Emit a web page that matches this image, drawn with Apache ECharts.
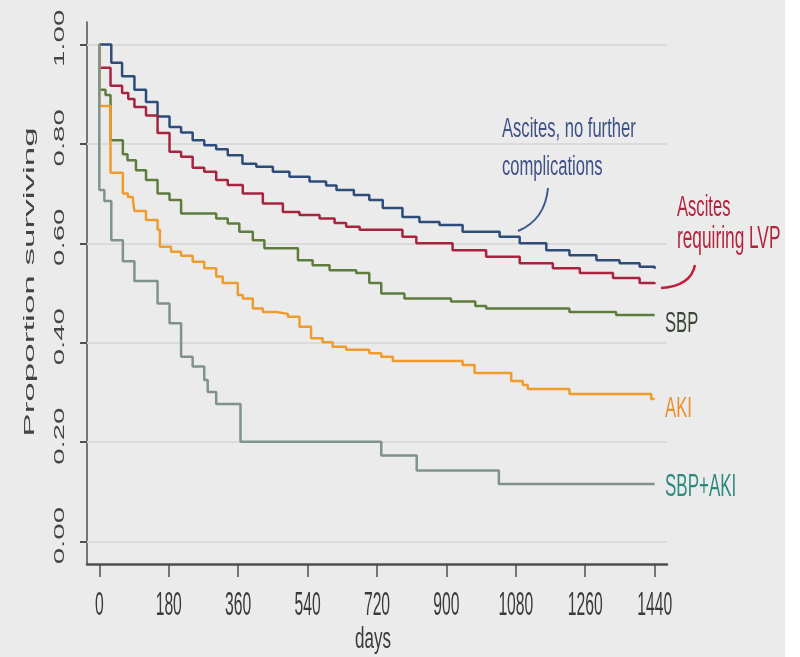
<!DOCTYPE html>
<html>
<head>
<meta charset="utf-8">
<script src="https://cdn.jsdelivr.net/npm/echarts@6/dist/echarts.min.js"></script>
<style>
  html, body { margin: 0; padding: 0; background: #ebebeb; }
  #chart { width: 800px; height: 657px; }
</style>
</head>
<body>
<div id="chart"></div>
<script>
// Kaplan-Meier survival by complication group (days since first decompensation)
const dayTicks = [0, 180, 360, 540, 720, 900, 1080, 1260, 1440];
const survivalTicks = [0, 0.2, 0.4, 0.6, 0.8, 1.0];
const survivalTickLabels = ['0.00', '0.20', '0.40', '0.60', '0.80', '1.00'];

const groupNames = ['Ascites, no further complications', 'Ascites requiring LVP', 'SBP', 'AKI', 'SBP+AKI'];

const daysAscites = [0, 31, 59, 91, 121, 151, 182, 212, 242, 272, 303, 333, 371, 407, 450, 493, 545, 588, 615, 660, 700, 735, 786, 830, 882, 942, 1038, 1090, 1159, 1219, 1289, 1349, 1401, 1440];
const survAscites = [1.0, 0.963, 0.936, 0.909, 0.884, 0.855, 0.834, 0.823, 0.807, 0.797, 0.789, 0.777, 0.760, 0.754, 0.744, 0.734, 0.724, 0.716, 0.707, 0.697, 0.687, 0.671, 0.653, 0.643, 0.637, 0.623, 0.613, 0.600, 0.586, 0.576, 0.566, 0.560, 0.553, 0.549];

const daysLvp = [0, 0, 29, 59, 75, 91, 121, 151, 182, 212, 242, 272, 303, 333, 372, 424, 476, 519, 571, 610, 640, 675, 786, 822, 916, 1003, 1090, 1176, 1246, 1332, 1401, 1440];
const survLvp = [1.0, 0.953, 0.917, 0.902, 0.890, 0.874, 0.857, 0.822, 0.784, 0.774, 0.752, 0.744, 0.727, 0.717, 0.700, 0.680, 0.663, 0.657, 0.650, 0.641, 0.633, 0.627, 0.613, 0.600, 0.586, 0.573, 0.560, 0.550, 0.540, 0.530, 0.520, 0.518];

const daysSbp = [0, 0, 16, 29, 61, 73, 95, 121, 151, 182, 212, 303, 333, 363, 398, 428, 515, 553, 597, 666, 700, 731, 791, 912, 975, 1003, 1219, 1340, 1440];
const survSbp = [1.0, 0.909, 0.898, 0.807, 0.779, 0.767, 0.747, 0.727, 0.700, 0.687, 0.660, 0.650, 0.640, 0.623, 0.606, 0.590, 0.566, 0.556, 0.546, 0.540, 0.520, 0.499, 0.489, 0.483, 0.474, 0.469, 0.462, 0.456, 0.456];

const daysAki = [0, 0, 29, 61, 74, 87, 91, 121, 151, 157, 186, 212, 242, 272, 303, 320, 359, 372, 398, 424, 459, 489, 519, 549, 579, 605, 640, 700, 731, 761, 942, 973, 1068, 1098, 1111, 1219, 1431, 1440];
const survAki = [1.0, 0.876, 0.742, 0.700, 0.693, 0.687, 0.665, 0.647, 0.627, 0.593, 0.583, 0.575, 0.563, 0.550, 0.533, 0.520, 0.496, 0.489, 0.469, 0.462, 0.458, 0.452, 0.432, 0.409, 0.401, 0.392, 0.386, 0.379, 0.372, 0.363, 0.355, 0.339, 0.323, 0.315, 0.307, 0.297, 0.287, 0.287];

const daysSbpAki = [0, 0, 13, 31, 61, 91, 151, 182, 212, 242, 272, 281, 303, 366, 731, 823, 1036, 1440];
const survSbpAki = [1.0, 0.707, 0.685, 0.606, 0.564, 0.524, 0.479, 0.439, 0.372, 0.352, 0.325, 0.301, 0.277, 0.201, 0.173, 0.143, 0.116, 0.116];

const lineColors = ['#2d4c7a', '#a8233d', '#5e7c3c', '#ef9b2d', '#7f928d'];

const X_MIN = -32, X_MAX = 1472, Y_MIN = -0.045, Y_MAX = 1.045;
const FONT = '"Liberation Sans", Arial, sans-serif';

function pairs(xs, ys) { return xs.map((x, i) => [x, ys[i]]); }

const curves = [
  pairs(daysAscites, survAscites),
  pairs(daysLvp, survLvp),
  pairs(daysSbp, survSbp),
  pairs(daysAki, survAki),
  pairs(daysSbpAki, survSbpAki)
];

const chart = echarts.init(document.getElementById('chart'), null, { renderer: 'canvas' });

const series = [{
  // horizontal reference lines at each survival tick, kept beneath the curves
  type: 'line', data: [], z: 1, zlevel: 0, silent: true,
  markLine: {
    silent: true, symbol: ['none', 'none'], animation: false, z: 1,
    label: { show: false },
    lineStyle: { type: 'solid', color: '#dadada', width: 2 },
    data: survivalTicks.map(v => ({ yAxis: v }))
  }
}].concat(curves.map((d, i) => ({
  name: groupNames[i],
  type: 'line', step: 'end', data: d, z: 8,
  showSymbol: false, symbol: 'none', silent: true,
  lineStyle: { color: lineColors[i], width: 2.5 }
})));

chart.setOption({
  backgroundColor: '#ebebeb',
  animation: false,
  grid: { left: 87, right: 133, top: 22, bottom: 93, containLabel: false },
  xAxis: {
    type: 'value', min: X_MIN, max: X_MAX,
    axisLine: { show: true, onZero: false, lineStyle: { color: '#4f4f4f', width: 2.5 } },
    axisTick: { show: true, customValues: dayTicks, length: 13, lineStyle: { color: '#4f4f4f', width: 1.5 } },
    axisLabel: { show: false },
    splitLine: { show: false }
  },
  yAxis: {
    type: 'value', min: Y_MIN, max: Y_MAX,
    axisLine: { show: true, onZero: false, lineStyle: { color: '#4f4f4f', width: 1.5 } },
    axisTick: { show: true, customValues: survivalTicks, length: 7, lineStyle: { color: '#4f4f4f', width: 2 } },
    axisLabel: { show: false },
    splitLine: { show: false }
  },
  series: series
});

function toPx(x, y) { return chart.convertToPixel({ gridIndex: 0 }, [x, y]); }

function txt(text, x, y, opt) {
  return {
    type: 'text', x: x, y: y, z: 10, silent: true,
    rotation: opt.rotation || 0,
    scaleX: opt.sx || 1, scaleY: opt.sy || 1,
    style: {
      text: text, fill: opt.color || '#333',
      font: (opt.size || 16) + 'px ' + FONT,
      align: opt.align || 'center', textAlign: opt.align || 'center',
      verticalAlign: 'middle', textVerticalAlign: 'middle'
    }
  };
}

const graphics = [];

// day tick labels
dayTicks.forEach(d => {
  const p = toPx(d, Y_MIN);
  graphics.push(txt(String(d), p[0], p[1] + 42, { size: 15.7, sy: 2.1, color: '#3a3a3a' }));
});
graphics.push(txt('days', toPx(720, Y_MIN)[0] - 4, 640, { size: 17, sy: 1.7, color: '#3a3a3a' }));

// survival tick labels, rotated
survivalTicks.forEach((v, i) => {
  const p = toPx(X_MIN, v);
  graphics.push(txt(survivalTickLabels[i], p[0] - 27, p[1] - 6, { size: 14, sx: 2.1, rotation: Math.PI / 2, color: '#444' }));
});
graphics.push(txt('Proportion surviving', 30, 282, { size: 14, sx: 2.5, rotation: Math.PI / 2, color: '#444' }));

// group annotations
graphics.push(txt('Ascites, no further', 502, 129.5, { size: 16.6, sy: 1.7, align: 'left', color: '#3f5185' }));
graphics.push(txt('complications', 502, 167, { size: 16.6, sy: 1.7, align: 'left', color: '#3f5185' }));
graphics.push(txt('Ascites', 677, 207.5, { size: 16.6, sy: 1.82, align: 'left', color: '#b4223b' }));
graphics.push(txt('requiring LVP', 677, 239, { size: 17.3, sy: 1.82, align: 'left', color: '#b4223b' }));
graphics.push(txt('SBP', 665, 324, { size: 16.6, sy: 1.82, align: 'left', color: '#3a4535' }));
graphics.push(txt('AKI', 665, 409, { size: 16.7, sy: 1.82, align: 'left', color: '#ea8f2c' }));
graphics.push(txt('SBP+AKI', 665, 487.5, { size: 17, sy: 1.82, align: 'left', color: '#2b8a7d' }));

// leader curves to the two top groups
graphics.push({
  type: 'bezierCurve', z: 10, silent: true,
  shape: { x1: 548, y1: 188, cpx1: 545, cpy1: 220, x2: 518, y2: 231 },
  style: { stroke: '#3f5a8c', lineWidth: 2, fill: null }
});
graphics.push({
  type: 'bezierCurve', z: 10, silent: true,
  shape: { x1: 695, y1: 265, cpx1: 691, cpy1: 286, x2: 661, y2: 288 },
  style: { stroke: '#c0213a', lineWidth: 2.5, fill: null }
});

// white margin at the right edge
graphics.push({
  type: 'rect', z: 0, silent: true,
  shape: { x: 785, y: 0, width: 15, height: 657 },
  style: { fill: '#ffffff' }
});

chart.setOption({ graphic: { elements: graphics } });
</script>
</body>
</html>
